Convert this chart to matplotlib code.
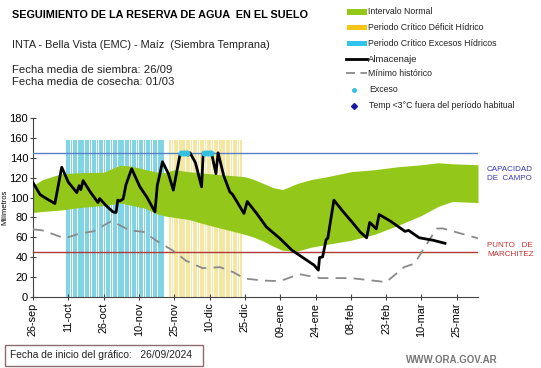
import matplotlib
matplotlib.use("Agg")
import matplotlib.pyplot as plt
import numpy as np
from matplotlib.patches import Rectangle
from matplotlib.lines import Line2D

# ---- data (days since 26-sep) ----
tick_days = [0, 15, 30, 45, 60, 75, 90, 105, 120, 135, 150, 165, 180]
tick_labels = ["26-sep", "11-oct", "26-oct", "10-nov", "25-nov", "10-dic", "25-dic",
               "09-ene", "24-ene", "08-feb", "23-feb", "10-mar", "25-mar"]

band_days = [0, 4, 12, 20, 30, 37, 42, 48, 52, 56, 60, 66, 75, 85, 90, 94, 98, 102, 106,
             112, 118, 125, 135, 145, 155, 165, 172, 178, 189]
band_upper = [112, 118, 124, 125, 125.5, 132.5, 131.5, 128, 126, 125, 128, 126, 124, 122,
              121, 118, 114, 110, 108, 114, 118, 121, 126, 128, 131, 133, 135, 134, 133]
band_lower = [85, 86, 87.5, 90, 92, 94.5, 92, 89, 84, 81.5, 80, 78, 72, 66, 63, 60, 56, 51,
              47, 46, 50, 53, 57, 63, 72, 82, 91, 96, 95]

alm_days = [0, 3, 6, 9.3, 12.2, 15, 18.6, 19.6, 20.3, 21.3, 24.5, 27.6, 28.3, 31, 34, 35.3,
            36, 37, 38.3, 39.5, 41.9, 45.4, 48.3, 51.8, 52.8, 53.3, 55, 57.5, 59.6, 62.4,
            63, 65.4, 65.8, 66.7, 69, 71.6, 72.3, 75.8, 77.7, 78.6, 81, 83.6, 84.8, 89.6,
            91, 95, 99.1, 104.9, 110, 115.2, 119.4, 121.2, 121.7, 123, 124.5, 125.2, 127.8,
            131.8, 136, 138.9, 141.7, 143, 145.8, 147, 152, 158, 159.5, 164, 170, 175]
alm_vals = [115, 103, 98.5, 94, 130.5, 115.5, 105, 112, 108, 117, 105, 95, 99, 92, 85.5,
            85, 97.4, 96.5, 98.7, 113, 129, 110.8, 100.7, 85.6, 112.5, 117.5, 136, 124,
            107.5, 142.7, 145, 145, 142.7, 145, 135, 110.8, 145, 145, 124, 145, 122, 105.7,
            103, 84, 96, 84, 70.5, 58.8, 47, 38.7, 32, 27, 39.7, 40.3, 57.8, 59, 97.4,
            85.6, 74, 65.5, 59.5, 75, 68.5, 83, 76, 66, 67, 59.6, 57, 54]

min_days = [0, 4, 13.5, 20, 25.6, 33.4, 41, 47, 52.5, 59.5, 65, 72, 79.5, 85, 90, 98,
            105, 113, 122, 135, 150, 157.6, 162, 171.4, 174, 189]
min_vals = [68, 67, 59, 64, 66, 76.5, 67, 65.5, 56.5, 46.5, 36.5, 29, 30, 25, 18.5, 16.5,
            16, 23, 19, 19, 15, 30, 33.6, 68.8, 69, 59]

exceso_days = [63, 63.8, 64.6, 65.4, 72.6, 73.4, 74.2, 75, 75.8]
exceso_vals = [145, 145, 145, 145, 145, 145, 145, 145, 145]

excess_period = (14, 55.6)
deficit_period = (57.9, 89)
capacidad = 145
marchitez = 45

# ---- figure ----
W, H = 541, 368
fig = plt.figure(figsize=(W / 100, H / 100), dpi=100)
plt.rcParams['font.family'] = ['Liberation Sans', 'DejaVu Sans']

x0, x1 = 33, 478
y0, y1 = 297, 118
ax = fig.add_axes([x0 / W, 1 - y0 / H, (x1 - x0) / W, (y0 - y1) / H])
ax.set_xlim(0, 189)
ax.set_ylim(0, 180)

blue_c = '#80d4e4'
yel_c = '#f3e7a3'
green_c = '#93c81a'

# striped periods
for (a, b), c in [(excess_period, blue_c), (deficit_period, yel_c)]:
    d = a
    while d < b - 0.3:
        ax.bar(d, 158, width=0.75, align='edge', color=c, linewidth=0, zorder=1)
        d += 1.0

ax.fill_between(band_days, band_lower, band_upper, color=green_c, linewidth=0, zorder=2)
ax.axhline(capacidad, color='#5b7fc4', lw=1.0, zorder=3)
ax.axhline(marchitez, color='#b03a3a', lw=1.0, zorder=3)
ax.plot(min_days, min_vals, color='#8a8a8a', lw=1.3, dashes=(6, 4), zorder=4)
ax.plot(alm_days, alm_vals, color='black', lw=2.0, zorder=5)
ax.plot(exceso_days, exceso_vals, 'o', color='#33c0e0', ms=3.2, zorder=6)

ax.spines['top'].set_visible(False)
ax.spines['right'].set_visible(False)
ax.spines['left'].set_color('#444444')
ax.spines['bottom'].set_color('#444444')
ax.set_yticks(range(0, 181, 20))
ax.set_xticks(tick_days)
ax.set_xticklabels(tick_labels, rotation=90, fontsize=7.8)
ax.tick_params(axis='y', labelsize=8, length=4, direction='inout', color='#444444', pad=1.5)
ax.tick_params(axis='x', length=4, direction='inout', color='#444444', pad=2)
ax.set_ylabel('Milímetros', fontsize=5.5, labelpad=0.5)

# right side labels
fig.text(487 / W, 1 - 174 / H, 'CAPACIDAD\nDE  CAMPO', color='#3a3ab0', fontsize=5.8,
         va='center', ha='left', linespacing=1.25)
fig.text(487 / W, 1 - 250 / H, 'PUNTO   DE\nMARCHITEZ', color='#c03030', fontsize=5.8,
         va='center', ha='left', linespacing=1.25)

# titles
fig.text(12 / W, 1 - 15 / H, 'SEGUIMIENTO DE LA RESERVA DE AGUA  EN EL SUELO',
         fontsize=7.8, fontweight='bold', va='center', ha='left')
fig.text(12 / W, 1 - 45 / H, 'INTA - Bella Vista (EMC) - Maíz  (Siembra Temprana)',
         fontsize=7.8, va='center', ha='left', color='#222222')
fig.text(12 / W, 1 - 70 / H, 'Fecha media de siembra: 26/09', fontsize=8.2,
         va='center', ha='left', color='#222222')
fig.text(12 / W, 1 - 82 / H, 'Fecha media de cosecha: 01/03', fontsize=8.2,
         va='center', ha='left', color='#222222')

# legend (manual)
lx = 347
items = [
    ('patch', '#93c81a', 'Intervalo Normal', 12),
    ('patch', '#f5c518', 'Periodo Crítico Déficit Hídrico', 27),
    ('patch', '#2ec4ec', 'Periodo Crítico Excesos Hídricos', 43),
    ('line', 'black', 'Almacenaje', 59),
    ('dash', '#8a8a8a', 'Mínimo histórico', 73),
    ('dot', '#33c0e0', 'Exceso', 90),
    ('diamond', '#1a1aa0', 'Temp <3°C fuera del período habitual', 106),
]
for kind, col, label, yy in items:
    yf = 1 - yy / H
    if kind == 'patch':
        fig.patches.append(Rectangle((lx / W, yf - 2.5 / H), 20 / W, 5 / H,
                                     transform=fig.transFigure, color=col, lw=0))
    elif kind == 'line':
        fig.lines.append(Line2D([(lx - 1) / W, (lx + 20) / W], [yf, yf],
                                transform=fig.transFigure, color=col, lw=2))
    elif kind == 'dash':
        fig.lines.append(Line2D([(lx - 1) / W, (lx + 20) / W], [yf, yf],
                                transform=fig.transFigure, color=col, lw=1.3,
                                dashes=(5, 3)))
    elif kind == 'dot':
        fig.lines.append(Line2D([(lx + 7) / W], [yf], transform=fig.transFigure,
                                marker='o', ms=2.5, color=col, lw=0))
    elif kind == 'diamond':
        fig.lines.append(Line2D([(lx + 7) / W], [yf], transform=fig.transFigure,
                                marker='D', ms=3, color=col, lw=0))
    tx = lx + 21 if kind in ('patch', 'line', 'dash') else lx + 22
    fig.text(tx / W, yf, label, fontsize=6.3 if kind != 'line' else 6.8, va='center',
             ha='left', color='#222222')

# bottom box
fig.patches.append(Rectangle((5 / W, 1 - 366 / H), 198 / W, 21 / H, transform=fig.transFigure,
                             fill=False, edgecolor='#8c6c6c', lw=1))
fig.text(10 / W, 1 - 355 / H, 'Fecha de inicio del gráfico:   26/09/2024', fontsize=7.4,
         va='center', ha='left', color='#222222')
fig.text(498 / W, 1 - 360 / H, 'WWW.ORA.GOV.AR', fontsize=7, fontweight='bold',
         va='center', ha='right', color='#777777')

fig.savefig('out.png', dpi=100)
